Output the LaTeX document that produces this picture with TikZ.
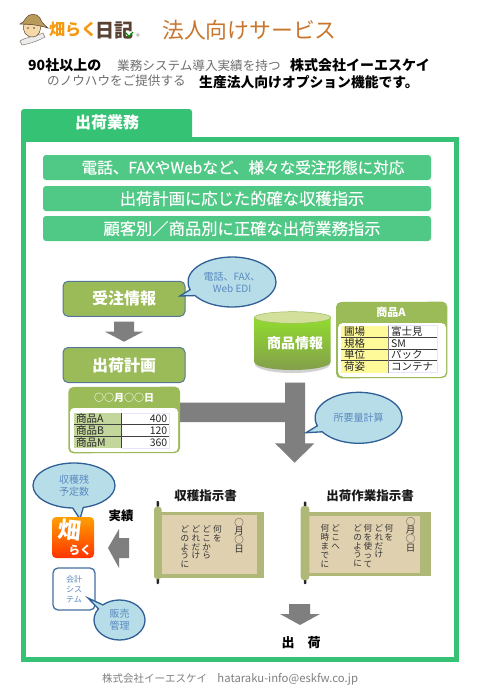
\documentclass[tikz,border=0pt]{standalone}
\usepackage{fontspec}
\setmainfont{Noto Sans CJK JP}
\newfontfamily\medfont[FakeBold=0.35]{Noto Sans CJK JP}
\usetikzlibrary{shapes.geometric,shapes.callouts}
\newcommand{\fs}[1]{\fontsize{#1}{#1}\selectfont}
\newcommand{\fsl}[2]{\fontsize{#1}{#2}\selectfont}
\definecolor{frameg}{HTML}{36C275}
\definecolor{bannerg}{HTML}{4FC985}
\definecolor{olive}{HTML}{9BBB59}
\definecolor{oliveb}{HTML}{55789A}
\definecolor{arrowg}{HTML}{7F7F7F}
\definecolor{callfill}{HTML}{B7DDE8}
\definecolor{callline}{HTML}{2F5F96}
\definecolor{calltext}{HTML}{5B8AC0}
\definecolor{scrollo}{HTML}{B0B878}
\definecolor{scrollb}{HTML}{DFD0B0}
\definecolor{greytext}{HTML}{6E6E6E}
\definecolor{logoor}{HTML}{F39A12}
\definecolor{logobr}{HTML}{5A4232}
\definecolor{titleor}{HTML}{C8762E}
\definecolor{hatc}{HTML}{B89A5A}
\definecolor{facec}{HTML}{F6D9A8}
\tikzset{
  banner/.style={fill=bannerg,draw=none,rounded corners=3pt,minimum width=388pt,minimum height=25pt,inner sep=0pt,text=white,font=\medfont\fs{16.3}},
  stepbox/.style={fill=olive,draw=oliveb,line width=1pt,rounded corners=5pt,minimum width=122pt,minimum height=35pt,inner sep=0pt,text=white,font=\fs{16}\bfseries},
  bubble/.style={ellipse callout,fill=callfill,draw=callline,line width=1.3pt,inner sep=0pt,align=center,text=calltext},
  blockarrow/.style={fill=arrowg,draw=none},
  cell/.style={inner sep=0pt,font=\fs{10.5},text=black!85},
  vcol/.style={anchor=north,inner sep=0pt,align=center,font=\fsl{8.6}{8.9},text=black!80},
  vdate/.style={anchor=north,inner sep=0pt,align=center,font=\fsl{9.5}{8.2},text=black!80},
  head/.style={inner sep=0pt,font=\fs{14}\bfseries,text=black,anchor=west},
  headg/.style={inner sep=0pt,font=\fs{12.6},text=greytext,anchor=west},
  doctitle/.style={inner sep=0pt,font=\fs{12.5}\bfseries,text=black!90},
}
\begin{document}
\begin{tikzpicture}[x=1pt,y=-1pt]
\useasboundingbox (0,0) rectangle (480,694);
\fill[white] (0,0) rectangle (480,694);

% logo figure
\fill[black!8!white,draw=logobr!70,line width=.5pt] (20,41) .. controls (26,37) and (36,36) .. (43,33) -- (45,37) .. controls (36,42) and (28,44) .. (22,45) -- cycle;
\fill[facec,draw=logobr,line width=.5pt] (24,24) .. controls (22,32) and (26,37) .. (33,37) .. controls (39,37) and (41,30) .. (41,24) -- cycle;
\fill[logobr] (28,28) circle (.8) (34,28) circle (.8);
\fill[hatc,draw=logobr,line width=.5pt] (20,24) .. controls (23,23) and (24,21) .. (26,18) .. controls (29,13) and (37,13) .. (40,18) .. controls (41,21) and (43,24) .. (48,28) .. controls (38,25) and (30,24) .. (20,24) -- cycle;
% logo wordmark
\node[name=logoa,inner sep=0pt,anchor=west,font=\fs{16}\bfseries,text=logoor] at (49,30) {畑らく};
\node[name=logob,inner sep=0pt,anchor=west,font=\fs{19}\bfseries,text=logobr] at (95,30) {日記};
\draw[green!55!black,line width=1.2pt] (126,33) -- (129,36.5) -- (133,32);
\node[name=logoc,inner sep=0pt,font=\fs{7},text=black!60] at (138,37) {®};
\node[name=title,inner sep=0pt,anchor=west,font=\fs{21.8},text=titleor] at (162,30) {法人向けサービス};

% intro lines
\node[name=ia,head] at (28,65) {90社以上の};
\node[name=ib,headg] at (117,66) {業務システム導入実績を持つ};
\node[name=ic,head] at (290,65) {株式会社イーエスケイ};
\node[name=id,headg] at (47,81) {のノウハウをご提供する};
\node[name=ie,head,font=\fs{13.8}\bfseries] at (199,82) {生産法人向けオプション機能です。};

% frame and tab
\draw[frameg,line width=5pt] (23.5,139.5) rectangle (456.5,659.5);
\fill[frameg,rounded corners=3pt] (21,145) -- (21,109) -- (192,109) -- (192,145) -- cycle;
\fill[white] (26,142) rectangle (200,150);
\node[name=tab,inner sep=0pt,font=\fs{16}\bfseries,text=white] at (107,122) {出荷業務};

% banners
\node[name=ba,banner,font=\medfont\fs{15.6}] at (237,167.5) {\hspace*{12pt}電話、FAXやWebなど、様々な受注形態に対応};
\node[name=bb,banner] at (237,198.5) {\hspace*{10pt}出荷計画に応じた的確な収穫指示};
\node[name=bc,banner] at (237,228.5) {\hspace*{10pt}顧客別／商品別に正確な出荷業務指示};

% gray big arrow
\fill[blockarrow] (178,402.7) -- (285,402.7) -- (285,382.7) -- (305,382.7) -- (305,443.3) -- (314.3,443.3) -- (294.7,462.7) -- (275,443.3) -- (285,443.3) -- (285,422) -- (178,422) -- cycle;

% steps
\node[name=order,stepbox] at (124,298.8) {受注情報};
\node[name=plan,stepbox] at (124,365) {出荷計画};
\fill[blockarrow] (114,321.7) -- (134,321.7) -- (134,331.7) -- (143,331.7) -- (124,341.7) -- (105,331.7) -- (114,331.7) -- cycle;

% callouts
\coordinate (p1) at (180,296);
\node[name=c1,bubble,minimum width=88pt,minimum height=50pt,callout absolute pointer={(p1)},font=\fs{10}] at (232,282) {電話、FAX、\\[2pt]Web EDI};
\coordinate (p2) at (306,432.7);
\node[name=c2,bubble,minimum width=87pt,minimum height=51pt,callout absolute pointer={(p2)},font=\fs{10}] at (358.6,417.8) {所要量計算};
\coordinate (p3) at (80,519);
\node[name=c3,bubble,minimum width=82pt,minimum height=45pt,callout absolute pointer={(p3)},font=\fs{10}] at (74,485.5) {収穫残\\[2pt]予定数};

% date table card
\fill[olive] (68.3,392) arc[start angle=180,end angle=270,radius=5] -- (175,386.7) arc[start angle=-90,end angle=0,radius=5] -- (180,448) arc[start angle=0,end angle=90,radius=5] -- (73.3,453.3) arc[start angle=90,end angle=180,radius=5] -- cycle;
\fill[white,rounded corners=4pt] (70,408) rectangle (178,451.8);
\node[name=dt,inner sep=0pt,font=\fs{10}\bfseries,text=white] at (124,398) {○○月○○日};
\fill[olive!60!white] (74,413) rectangle (121.7,448);
\draw[blue!10!white,line width=.7pt] (121.7,413) rectangle (169,448);
\draw[black!75,line width=.8pt] (74,424.7) -- (169,424.7) (74,436.3) -- (169,436.3) (121.7,413) -- (121.7,448);
\foreach \n/\y/\a/\b in {a/419/商品A/400,b/431/商品B/120,c/442.5/商品M/360}{
  \node[name=dl\n,cell,anchor=west] at (76,\y) {\a};
  \node[name=dr\n,cell,anchor=east] at (167.5,\y) {\b};
}

% cylinder
\fill[black!18] (254.8,330) -- (254.8,364) arc[x radius=37.7,y radius=9,start angle=180,end angle=0] -- (330.2,330) -- cycle;
\shade[bottom color=olive!85!black,top color=olive!70!green!75!yellow] (254.3,317.5) -- (254.3,362) arc[x radius=38.2,y radius=8,start angle=180,end angle=0] -- (330.7,317.5) -- cycle;
\fill[olive!50!white!90!yellow,draw=olive,line width=.5pt] (292.5,317.5) ellipse[x radius=38.2,y radius=5.8];
\node[name=goods,inner sep=0pt,font=\fs{14}\bfseries,text=white] at (295,343) {商品情報};

% goods card
\fill[olive] (336,307) arc[start angle=180,end angle=270,radius=5] -- (442.3,301.7) arc[start angle=-90,end angle=0,radius=5] -- (447.3,373) arc[start angle=0,end angle=90,radius=5] -- (341,378.3) arc[start angle=90,end angle=180,radius=5] -- cycle;
\fill[white,rounded corners=5pt] (338,323) rectangle (446.2,376.8);
\node[name=gt,inner sep=0pt,font=\fs{11}\bfseries,text=white] at (391,312) {商品A};
\fill[yellow!40!white] (341,325.7) rectangle (388.3,372.7);
\draw[blue!10!white,line width=.7pt] (388.3,325.7) rectangle (437.3,372.7);
\draw[black!75,line width=.8pt] (341,337.5) -- (437.3,337.5) (341,349) -- (437.3,349) (341,360.7) -- (437.3,360.7);
\draw[black!50,line width=1pt] (388.3,325.7) -- (388.3,372.7);
\foreach \n/\y/\a/\b in {a/331.5/圃場/富士見,b/343.5/規格/SM,c/355/単位/パック,d/367/荷姿/コンテナ}{
  \node[name=gl\n,cell,anchor=west] at (344,\y) {\a};
  \node[name=gr\n,cell,anchor=west] at (391,\y) {\b};
}

% app icon
\shade[rounded corners=4pt,top color=orange!75!yellow,bottom color=red!60!orange] (52,517) rectangle (94,558);
\node[name=appa,inner sep=0pt,rotate=-6,font=\fs{23}\bfseries,text=white] at (70,530) {畑};
\node[name=appb,inner sep=0pt,font=\fs{11.5}\bfseries,text=white] at (80,550) {らく};

% result arrow
\node[name=res,inner sep=0pt,font=\fs{12.5}\bfseries,text=black] at (121,516) {実績};
\fill[blockarrow] (108,548) -- (119,529) -- (119,538) -- (129,538) -- (129,558) -- (119,558) -- (119,568) -- cycle;

% accounting
\node[name=acc,draw=callline!90,fill=white,line width=1.3pt,rounded corners=5pt,minimum width=42pt,minimum height=42pt,inner sep=0pt,align=center,font=\fsl{8}{10},text=calltext] at (74,589) {会計\\シス\\テム};
\coordinate (p4) at (88,598);
\node[name=c4,bubble,minimum width=51pt,minimum height=40pt,callout absolute pointer={(p4)},font=\fs{10}] at (119.5,620) {販売\\[2pt]管理};

% scroll 1
\fill[scrollo] (158,512) rectangle (264,577.7);
\fill[scrollb] (161.7,515) rectangle (256.7,574.3);
\fill[black!85,rounded corners=.8pt] (156.5,501) rectangle (159,507);
\fill[black!85,rounded corners=.8pt] (156.5,577) rectangle (159,584);
\fill[scrollo,rounded corners=3pt] (154,506.7) rectangle (161.7,579);
\node[name=st1,doctitle] at (205.7,495.7) {収穫指示書};
\node[name=s1a,vdate] at (239,518) {○\\月\\○\\日};
\node[name=s1b,vcol] at (217.3,525) {何\\を};
\node[name=s1c,vcol] at (206.7,525) {ど\\こ\\か\\ら};
\node[name=s1d,vcol] at (196,525) {ど\\れ\\だ\\け};
\node[name=s1e,vcol] at (185,525) {ど\\の\\よ\\う\\に};

% scroll 2
\fill[scrollo] (305,512) rectangle (430.7,575.7);
\fill[scrollb] (309.3,515.7) rectangle (420,572.7);
\fill[black!85,rounded corners=.8pt] (303.8,501.5) rectangle (306.3,507);
\fill[black!85,rounded corners=.8pt] (303.8,578) rectangle (306.3,584);
\fill[scrollo,rounded corners=3pt] (300.7,506) rectangle (309.3,580);
\node[name=st2,doctitle] at (370,495.7) {出荷作業指示書};
\node[name=s2a,vdate] at (410.7,517) {○\\月\\○\\日};
\node[name=s2b,vcol] at (389,524) {何\\を};
\node[name=s2c,vcol] at (379,524) {ど\\れ\\だ\\け};
\node[name=s2d,vcol] at (368,524) {何\\を\\使\\っ\\て};
\node[name=s2e,vcol] at (357.7,524) {ど\\の\\よ\\う\\に};
\node[name=s2f,vcol] at (335.7,524) {ど\\こ\\へ};
\node[name=s2g,vcol] at (325,524) {何\\時\\ま\\で\\に};

% ship arrow
\fill[blockarrow] (289,604) -- (310,604) -- (310,614) -- (320,614) -- (300,625) -- (280,614) -- (289,614) -- cycle;
\node[name=ship,inner sep=0pt,font=\fs{13}\bfseries,text=black] at (301,643) {出　荷};

% footer
\node[name=foot,inner sep=0pt,anchor=west,font=\fs{10.5},text=black!50] at (102,679) {株式会社イーエスケイ　{\fontsize{11.3}{11.3}\selectfont hataraku-info@eskfw.co.jp}};
\end{tikzpicture}
\end{document}
